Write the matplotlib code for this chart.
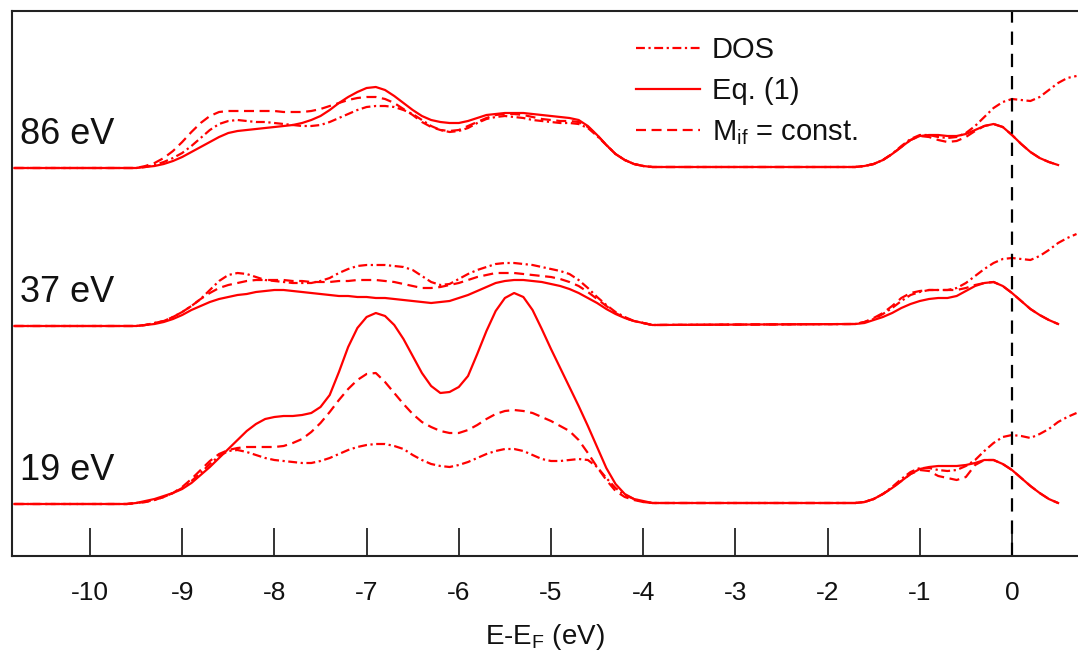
import numpy as np
import matplotlib
matplotlib.use("Agg")
import matplotlib.pyplot as plt
from matplotlib.lines import Line2D

plt.rcParams["font.family"] = ["Liberation Sans", "DejaVu Sans"]
plt.rcParams["mathtext.fontset"] = "custom"
plt.rcParams["mathtext.rm"] = "Liberation Sans"
plt.rcParams["mathtext.it"] = "Liberation Sans:italic"
plt.rcParams["mathtext.default"] = "regular"

# ---------------------------------------------------------------- data
# energy grids (eV relative to E_F)
E_START = -10.82
E_band = np.round(np.arange(-9.6, -3.85, 0.1), 1)     # valence-band region
E_fermi = np.round(np.arange(-1.7, 0.75, 0.1), 1)     # region around E_F

photon_energies = ["86 eV", "37 eV", "19 eV"]
offsets = [388, 230, 52]

# 86 eV
eq1_86_band = [0, 0, 1, 2, 4, 7, 11,
               16, 21, 26, 31, 35, 37, 38, 39, 40, 41,
               42, 43, 45, 48, 52, 58, 65, 71, 76, 80,
               81, 78, 72, 65, 58, 52, 48, 46, 45, 45,
               47, 50, 53, 54, 55, 55, 55, 54, 53, 52,
               51, 50, 48, 42, 33, 23, 14, 8, 4, 2, 1]
mif_86_band = [0, 0, 2, 5, 10, 17, 26,
               36, 45, 52, 56, 57, 57, 57, 57, 57, 57,
               56, 56, 56, 57, 59, 62, 65, 68, 70, 71,
               71, 69, 65, 59, 53, 46, 41, 38, 37, 38,
               42, 46, 50, 53, 54, 54, 53, 51, 49, 48,
               47, 47, 46, 41, 33, 23, 14, 8, 4, 2, 1]
dos_86_band = [0, 0, 1, 3, 6, 10, 15,
               22, 30, 38, 44, 47, 48, 47, 46, 46, 45,
               44, 43, 42, 42, 43, 46, 50, 54, 58, 61,
               62, 62, 61, 58, 54, 48, 42, 38, 36, 37,
               40, 45, 49, 51, 52, 51, 50, 48, 47, 46,
               45, 45, 44, 40, 32, 23, 14, 8, 4, 2, 1]
eq1_86_fermi = [1, 2, 4, 8, 14, 21, 28, 32, 33, 33, 32, 32, 34, 38, 42, 44,
                41, 33, 24, 16, 10, 6, 3]
mif_86_fermi = [1, 2, 4, 8, 14, 21, 28, 32, 31, 28, 26, 27, 31, 37, 42, 44,
                41, 33, 24, 16, 10, 6, 3]
dos_86_fermi = [1, 2, 4, 8, 14, 22, 29, 33, 33, 31, 30, 31, 35, 42, 51, 60,
                66, 69, 68, 67, 71, 78, 85, 90, 92]

# 37 eV
eq1_37_band = [0, 0, 1, 2, 4, 7, 11,
               16, 20, 24, 27, 29, 31, 32, 34, 35, 36,
               36, 35, 34, 33, 32, 31, 30, 30, 29, 29,
               28, 28, 27, 26, 25, 24, 23, 24, 25, 28,
               31, 35, 39, 43, 45, 46, 46, 45, 44, 42,
               40, 37, 33, 28, 23, 17, 12, 8, 5, 3, 1]
mif_37_band = [0, 0, 1, 3, 5, 9, 14,
               20, 27, 33, 38, 41, 43, 45, 46, 46, 46,
               46, 45, 45, 44, 44, 44, 45, 45, 46, 46,
               46, 45, 44, 42, 40, 38, 38, 39, 41, 43,
               46, 49, 51, 53, 53, 53, 52, 51, 50, 49,
               47, 44, 40, 34, 27, 20, 13, 8, 5, 3, 1]
dos_37_band = [0, 0, 1, 3, 5, 9, 14,
               20, 27, 36, 45, 51, 53, 52, 49, 46, 45,
               44, 43, 43, 43, 45, 48, 53, 57, 60, 61,
               61, 61, 60, 59, 56, 50, 44, 41, 42, 47,
               52, 56, 59, 62, 63, 63, 62, 61, 59, 57,
               55, 52, 46, 38, 29, 21, 14, 9, 5, 3, 1]
eq1_37_fermi = [2, 3, 6, 9, 13, 18, 22, 25, 27, 28, 28, 30, 35, 40, 43, 44,
                40, 33, 25, 17, 11, 6, 2]
mif_37_fermi = [2, 4, 8, 13, 20, 28, 33, 35, 36, 36, 36, 36, 38, 41, 43, 44,
                40, 33, 25, 17, 11, 6, 2]
dos_37_fermi = [2, 4, 7, 12, 18, 25, 31, 34, 36, 36, 36, 38, 43, 50, 57, 63,
                67, 68, 67, 66, 70, 76, 83, 88, 92]

# 19 eV
eq1_19_band = [0, 1, 3, 5, 8, 11, 15,
               21, 29, 37, 46, 55, 64, 73, 80, 85, 87,
               88, 88, 89, 91, 97, 109, 132, 157, 176, 187,
               191, 188, 179, 165, 148, 131, 118, 111, 112, 117,
               128, 150, 173, 193, 206, 211, 207, 194, 175, 155,
               136, 117, 98, 78, 57, 36, 20, 10, 5, 3, 1]
mif_19_band = [0, 1, 2, 4, 7, 11, 17,
               25, 34, 43, 50, 54, 56, 57, 57, 57, 57,
               58, 61, 65, 72, 81, 92, 104, 115, 124, 130,
               131, 122, 111, 100, 90, 82, 77, 73, 71, 71,
               74, 79, 85, 90, 93, 94, 93, 91, 87, 83,
               78, 73, 64, 51, 37, 24, 13, 7, 4, 2, 1]
dos_19_band = [0, 1, 2, 4, 7, 11, 16,
               23, 31, 40, 48, 53, 54, 52, 49, 46, 44,
               43, 42, 41, 41, 43, 46, 50, 54, 57, 59,
               60, 60, 58, 55, 49, 44, 40, 38, 37, 39,
               42, 46, 50, 53, 55, 55, 53, 49, 45, 43,
               43, 44, 45, 44, 37, 26, 16, 9, 5, 2, 1]
eq1_19_fermi = [1, 2, 5, 10, 16, 23, 30, 35, 37, 38, 38, 38, 39, 41, 44, 44,
                40, 34, 26, 18, 11, 5, 1]
mif_19_fermi = [1, 2, 5, 10, 16, 23, 30, 34, 33, 28, 26, 24, 27, 39, 44, 44,
                40, 34, 26, 18, 11, 5, 1]
dos_19_fermi = [1, 2, 5, 10, 17, 25, 32, 36, 36, 34, 33, 34, 38, 44, 53, 61,
                67, 69, 68, 66, 70, 75, 82, 87, 91]

tick_values = [-10, -9, -8, -7, -6, -5, -4, -3, -2, -1, 0]
tick_labels = ["-10", "-9", "-8", "-7", "-6", "-5", "-4", "-3", "-2", "-1", "0"]

spectra = {
    "86 eV": (eq1_86_band, eq1_86_fermi, mif_86_band, mif_86_fermi, dos_86_band, dos_86_fermi),
    "37 eV": (eq1_37_band, eq1_37_fermi, mif_37_band, mif_37_fermi, dos_37_band, dos_37_fermi),
    "19 eV": (eq1_19_band, eq1_19_fermi, mif_19_band, mif_19_fermi, dos_19_band, dos_19_fermi),
}

# ---------------------------------------------------------------- styles
RED = "#ff0000"
LW = 1.6
STYLE_EQ1 = dict(color=RED, lw=LW, linestyle="-")
STYLE_MIF = dict(color=RED, lw=LW, linestyle=(0, (4.5, 2.5)))
STYLE_DOS = dict(color=RED, lw=LW, linestyle=(0, (4.0, 1.6, 1.0, 1.6)))


def curve(band, fermi):
    e = np.concatenate([[E_START], E_band, E_fermi[:len(fermi)]])
    v = np.concatenate([[0], band, fermi])
    return e, v


fig = plt.figure(figsize=(10.78, 6.54), dpi=100)
ax = fig.add_axes([12 / 1078, 98 / 654, 1066 / 1078, 545 / 654])

for label, off in zip(photon_energies, offsets):
    eq_b, eq_f, mi_b, mi_f, do_b, do_f = spectra[label]
    e, v = curve(do_b, do_f)
    ax.plot(e, v + off, **STYLE_DOS)
    e, v = curve(mi_b, mi_f)
    ax.plot(e, v + off, **STYLE_MIF)
    e, v = curve(eq_b, eq_f)
    ax.plot(e, v + off, solid_joinstyle="round", **STYLE_EQ1)
    ax.text(-10.76, off + 34, label, fontsize=26, color="#111111",
            ha="left", va="center")

# Fermi level marker
ax.axvline(0, color="black", lw=1.6, dashes=(6, 4))

ax.set_xlim(-10.846, 0.716)
ax.set_ylim(0, 545)
ax.set_xticks(tick_values)
ax.set_xticklabels(tick_labels)
ax.set_yticks([])
ax.tick_params(axis="x", direction="in", length=20, width=1.2,
               pad=18, labelsize=19, colors="#111111")
for side in ("left", "bottom", "top"):
    ax.spines[side].set_linewidth(1.5)
    ax.spines[side].set_color("#222222")
ax.spines["right"].set_visible(False)
ax.set_xlabel("E-E$_\\mathrm{F}$ (eV)", fontsize=20, color="#111111", labelpad=12)

handles = [Line2D([], [], **STYLE_DOS),
           Line2D([], [], **STYLE_EQ1),
           Line2D([], [], **STYLE_MIF)]
labels = ["DOS", "Eq. (1)", "M$_\\mathrm{if}$ = const."]
leg = ax.legend(handles, labels, loc="upper left",
                bbox_to_anchor=(636 / 1078, (654 - 36) / 654),
                bbox_transform=fig.transFigure, frameon=False,
                fontsize=21, handlelength=2.2, handletextpad=0.4,
                labelspacing=0.45, borderpad=0, borderaxespad=0)
for t in leg.get_texts():
    t.set_color("#111111")

fig.savefig("out.png", dpi=100)
